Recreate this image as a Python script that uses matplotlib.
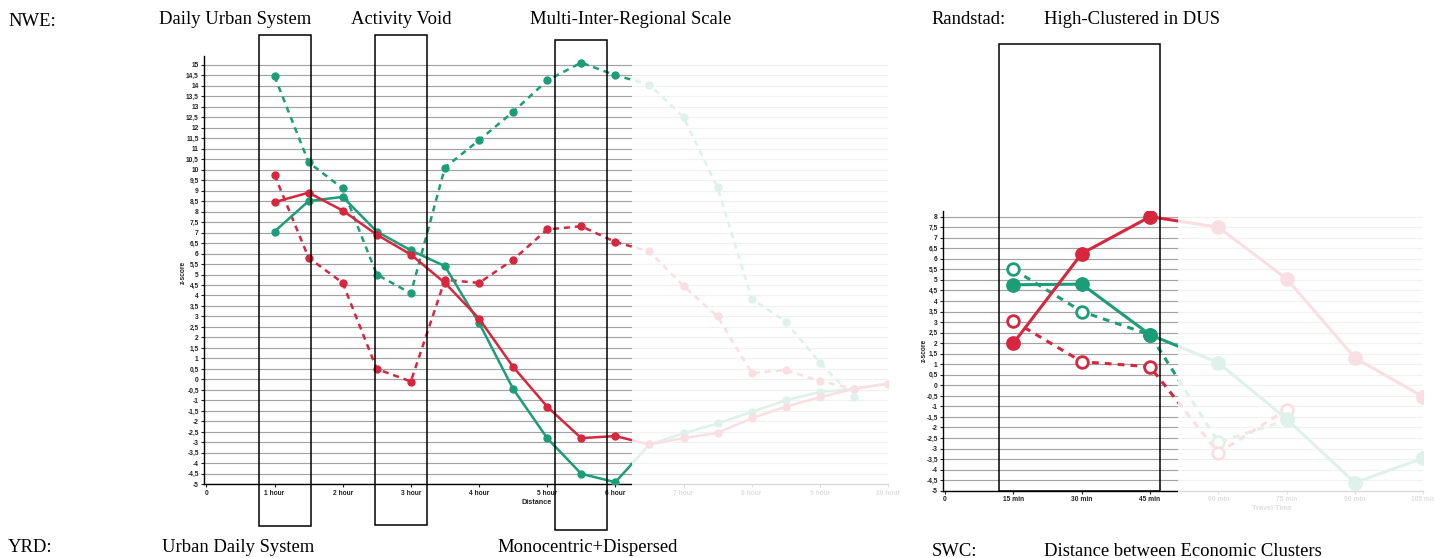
import numpy as np
import matplotlib
matplotlib.use("Agg")
import matplotlib.pyplot as plt
from matplotlib.patches import Rectangle
import matplotlib.transforms as mtransforms

# ---------------- data ----------------
# NWE: z-score vs distance (hours)
hours = [1, 1.5, 2, 2.5, 3, 3.5, 4, 4.5, 5, 5.5, 6, 6.5, 7, 7.5, 8, 8.5, 9, 9.5, 10]
nwe_red_solid = [8.45, 8.9, 8.05, 6.9, 5.95, 4.6, 2.9, 0.6, -1.3, -2.8, -2.7, -3.1,
                 -2.8, -2.55, -1.85, -1.3, -0.85, -0.45, -0.2]
nwe_green_solid = [7.05, 8.5, 8.7, 7.05, 6.15, 5.4, 2.7, -0.45, -2.8, -4.5, -4.9, -3.1,
                   -2.57, -2.1, -1.55, -1.0, -0.6, -0.45, -0.2]
hours_dash = hours[:-1]
nwe_red_dash = [9.75, 5.8, 4.6, 0.5, -0.1, 4.75, 4.6, 5.7, 7.15, 7.3, 6.55, 6.1,
                4.45, 3.0, 0.3, 0.45, -0.08, -0.45]
nwe_green_dash = [14.45, 10.35, 9.1, 5.0, 4.1, 10.1, 11.4, 12.75, 14.25, 15.1, 14.5, 14.05,
                  12.5, 9.15, 3.85, 2.75, 0.8, -0.85]
hour_ticks = list(range(0, 11))
hour_labels = ["0"] + ["%d hour" % h for h in range(1, 11)]

# Randstad: z-score vs travel time (minutes)
mins = [15, 30, 45, 60, 75, 90, 105]
rand_red_solid = [2.0, 6.25, 8.0, 7.5, 5.05, 1.3, -0.55]
rand_green_solid = [4.77, 4.8, 2.4, 1.07, -1.6, -4.62, -3.45]
mins_dash = [15, 30, 45, 60, 75]
rand_green_dash = [5.5, 3.5, 2.4, -2.7, -1.65]
rand_red_dash = [3.05, 1.12, 0.88, -3.2, -1.15]
min_ticks = [0, 15, 30, 45, 60, 75, 90, 105]
min_labels = ["0"] + ["%d min" % m for m in min_ticks[1:]]

RED = "#d7263d"
GREEN = "#1b9e77"
W, H = 1434, 558

plt.rcParams['font.family'] = ['Liberation Sans', 'DejaVu Sans']

fig = plt.figure(figsize=(W / 100, H / 100), dpi=100)


def px_axes(x0, y0, x1, y1):
    # x0,x1 left/right pixels, y0 top, y1 bottom pixels
    return fig.add_axes([x0 / W, 1 - y1 / H, (x1 - x0) / W, (y1 - y0) / H])


def fmt(v):
    return ("%g" % v).replace(".", ",")


def style_axes(ax, yticks, xticks, xlabels):
    for s in ["top", "right"]:
        ax.spines[s].set_visible(False)
    ax.spines["left"].set_linewidth(1.0)
    ax.spines["bottom"].set_linewidth(1.0)
    ax.set_yticks(yticks)
    ax.set_yticklabels([fmt(v) for v in yticks])
    ax.set_xticks(xticks)
    ax.set_xticklabels(xlabels)
    ax.tick_params(axis="both", length=2, width=0.8, pad=2, labelsize=4.8,
                   colors="#222222")
    for lab in ax.get_xticklabels() + ax.get_yticklabels():
        lab.set_fontweight("bold")
    for v in yticks:
        ax.axhline(v, color="#a3a3a3", lw=0.85, zorder=0)


def fade(ax, x_start):
    tr = mtransforms.blended_transform_factory(ax.transData, ax.transAxes)
    ax.add_patch(Rectangle((x_start, -0.16), 200, 1.3, transform=tr,
                           facecolor="white", edgecolor="none", alpha=0.86,
                           clip_on=False, zorder=10))


# ---------------- left chart (NWE) ----------------
ax1 = px_axes(204.3, 55.7, 888, 484.3)
ax1.set_xlim(-0.03, 10.0)
ax1.set_ylim(-5, 15.43)
style_axes(ax1, np.arange(-5, 15.01, 0.5), hour_ticks, hour_labels)

kw = dict(marker="o", markersize=5, lw=1.8, zorder=3)
ax1.plot(hours_dash, nwe_green_dash, color=GREEN, dashes=(2.4, 2.0), **kw)
ax1.plot(hours_dash, nwe_red_dash, color=RED, dashes=(2.4, 2.0), **kw)
ax1.plot(hours, nwe_green_solid, color=GREEN, **kw)
ax1.plot(hours, nwe_red_solid, color=RED, **kw)
fade(ax1, 6.25)

# ---------------- right chart (Randstad) ----------------
ax2 = px_axes(943.3, 211, 1423.3, 490.7)
ax2.set_xlim(-0.4, 105)
ax2.set_ylim(-5, 8.27)
style_axes(ax2, np.arange(-5, 8.01, 0.5), min_ticks, min_labels)

ax2.plot(mins_dash, rand_green_dash, color=GREEN, lw=2.2, dashes=(2.2, 2.0),
         marker="o", markersize=8.4, markerfacecolor="white",
         markeredgecolor=GREEN, markeredgewidth=2.0, zorder=3)
ax2.plot(mins_dash, rand_red_dash, color=RED, lw=2.2, dashes=(2.2, 2.0),
         marker="o", markersize=8.4, markerfacecolor="white",
         markeredgecolor=RED, markeredgewidth=2.0, zorder=3)
ax2.plot(mins, rand_green_solid, color=GREEN, lw=2.2, marker="o", markersize=9.6, zorder=4)
ax2.plot(mins, rand_red_solid, color=RED, lw=2.2, marker="o", markersize=9.6, zorder=4)
ax2.text(1272 / W, 1 - 508 / H, "Travel Time", transform=fig.transFigure,
         ha="center", va="center", fontsize=5.2, fontweight="bold", color="#222222")
fade(ax2, 51.2)

# axis labels
fig.text(537 / W, 1 - 503 / H, "Distance", ha="center", va="center",
         fontsize=5.2, fontweight="bold", color="#222222")
fig.text(183 / W, 1 - 272 / H, "z-score", ha="center", va="center", rotation=90,
         fontsize=4.8, fontweight="bold", color="#222222")
fig.text(924 / W, 1 - 350 / H, "z-score", ha="center", va="center", rotation=90,
         fontsize=4.8, fontweight="bold", color="#222222")

# highlight boxes
boxes = [(259, 35, 310.5, 526), (375, 35, 427, 525), (555, 40, 607, 530), (999, 44, 1160, 491)]
for x0, y0, x1, y1 in boxes:
    fig.add_artist(Rectangle((x0 / W, 1 - y1 / H), (x1 - x0) / W, (y1 - y0) / H,
                             transform=fig.transFigure, fill=False, edgecolor="black",
                             lw=1.1, zorder=20))

# region captions
captions = [
    (8, 22, "NWE:"), (159, 20, "Daily Urban System"), (351, 20, "Activity Void"),
    (530, 20, "Multi-Inter-Regional Scale"), (931, 20, "Randstad:"),
    (1044, 20, "High-Clustered in DUS"),
    (8, 548, "YRD:"), (162, 547, "Urban Daily System"), (497, 548, "Monocentric+Dispersed"),
    (932, 552, "SWC:"), (1044, 552, "Distance between Economic Clusters"),
]
for x, y, s in captions:
    fig.text(x / W, 1 - y / H, s, ha="left", va="center", fontsize=13.4,
             family="Liberation Serif", color="black")

fig.savefig("out.png", dpi=100)
